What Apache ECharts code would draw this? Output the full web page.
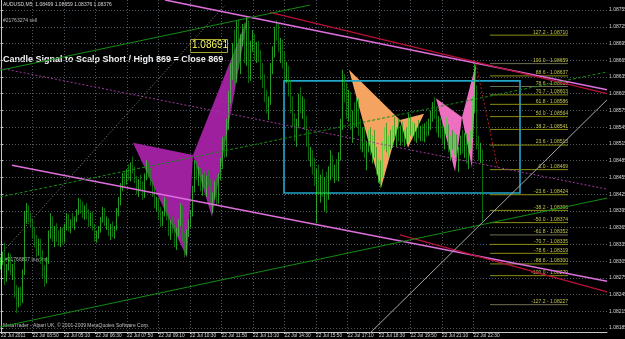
<!DOCTYPE html>
<html><head><meta charset="utf-8">
<script src="https://cdn.jsdelivr.net/npm/echarts@6/dist/echarts.min.js"></script>
<style>html,body{margin:0;padding:0;background:#000;overflow:hidden}#c{width:625px;height:339px}</style>
</head><body><div id="c"></div>
<script>
// ---- data ----
const opens = [
1.08300,1.08305,1.08318,1.08275,1.08295,1.08312,1.08286,1.08293,1.08248,1.08230,
1.08250,1.08235,1.08284,1.08385,1.08398,1.08380,1.08372,1.08350,1.08338,1.08320,
1.08340,1.08305,1.08282,1.08270,1.08305,1.08355,1.08380,1.08345,1.08362,1.08348,
1.08338,1.08358,1.08342,1.08366,1.08385,1.08362,1.08376,1.08372,1.08380,1.08393,
1.08410,1.08398,1.08386,1.08400,1.08385,1.08372,1.08388,1.08365,1.08346,1.08355,
1.08362,1.08380,1.08395,1.08372,1.08378,1.08356,1.08366,1.08352,1.08364,1.08395,
1.08412,1.08438,1.08455,1.08448,1.08465,1.08455,1.08476,1.08470,1.08450,1.08432,
1.08446,1.08436,1.08422,1.08458,1.08478,1.08462,1.08445,1.08426,1.08405,1.08415,
1.08386,1.08372,1.08390,1.08412,1.08382,1.08356,1.08372,1.08360,1.08336,1.08358,
1.08375,1.08402,1.08345,1.08320,1.08355,1.08372,1.08390,1.08435,1.08478,1.08455,
1.08468,1.08436,1.08455,1.08440,1.08452,1.08445,1.08410,1.08420,1.08442,1.08412,
1.08456,1.08482,1.08515,1.08498,1.08552,1.08600,1.08645,1.08680,1.08632,1.08725,
1.08660,1.08705,1.08718,1.08668,1.08730,1.08635,1.08690,1.08705,1.08672,1.08690,
1.08668,1.08640,1.08622,1.08598,1.08580,1.08592,1.08650,1.08680,1.08715,1.08708,
1.08688,1.08698,1.08658,1.08640,1.08650,1.08608,1.08578,1.08552,1.08528,1.08550,
1.08598,1.08578,1.08590,1.08548,1.08520,1.08495,1.08502,1.08468,1.08448,1.08455,
1.08432,1.08450,1.08428,1.08445,1.08420,1.08468,1.08490,1.08462,1.08470,1.08455,
1.08492,1.08550,1.08628,1.08600,1.08570,1.08602,1.08548,1.08565,1.08552,1.08590,
1.08538,1.08515,1.08538,1.08498,1.08510,1.08530,1.08502,1.08522,1.08495,1.08468,
1.08480,1.08458,1.08512,1.08535,1.08508,1.08525,1.08512,1.08540,1.08530,1.08538,
1.08525,1.08542,1.08522,1.08535,1.08520,1.08558,1.08535,1.08548,1.08526,1.08540,
1.08530,1.08545,1.08525,1.08546,1.08535,1.08552,1.08568,1.08585,1.08565,1.08542,
1.08558,1.08532,1.08520,1.08538,1.08545,1.08508,1.08522,1.08512,1.08528,1.08495,
1.08502,1.08520,1.08505,1.08528,1.08488,1.08512,1.08530,1.08590,1.08610,1.08515,
1.08495,1.08499];
const closes = [
1.08305,1.08318,1.08275,1.08295,1.08312,1.08286,1.08293,1.08248,1.08230,1.08250,
1.08235,1.08284,1.08385,1.08398,1.08380,1.08372,1.08350,1.08338,1.08320,1.08340,
1.08305,1.08282,1.08270,1.08305,1.08355,1.08380,1.08345,1.08362,1.08348,1.08338,
1.08358,1.08342,1.08366,1.08385,1.08362,1.08376,1.08372,1.08380,1.08393,1.08410,
1.08398,1.08386,1.08400,1.08385,1.08372,1.08388,1.08365,1.08346,1.08355,1.08362,
1.08380,1.08395,1.08372,1.08378,1.08356,1.08366,1.08352,1.08364,1.08395,1.08412,
1.08438,1.08455,1.08448,1.08465,1.08455,1.08476,1.08470,1.08450,1.08432,1.08446,
1.08436,1.08422,1.08458,1.08478,1.08462,1.08445,1.08426,1.08405,1.08415,1.08386,
1.08372,1.08390,1.08412,1.08382,1.08356,1.08372,1.08360,1.08336,1.08358,1.08375,
1.08402,1.08345,1.08320,1.08355,1.08372,1.08390,1.08435,1.08478,1.08455,1.08468,
1.08436,1.08455,1.08440,1.08452,1.08445,1.08410,1.08420,1.08442,1.08412,1.08456,
1.08482,1.08515,1.08498,1.08552,1.08600,1.08645,1.08680,1.08632,1.08725,1.08660,
1.08705,1.08718,1.08668,1.08730,1.08635,1.08690,1.08705,1.08672,1.08690,1.08668,
1.08640,1.08622,1.08598,1.08580,1.08592,1.08650,1.08680,1.08715,1.08708,1.08688,
1.08698,1.08658,1.08640,1.08650,1.08608,1.08578,1.08552,1.08528,1.08550,1.08598,
1.08578,1.08590,1.08548,1.08520,1.08495,1.08502,1.08468,1.08448,1.08455,1.08432,
1.08450,1.08428,1.08445,1.08420,1.08468,1.08490,1.08462,1.08470,1.08455,1.08492,
1.08550,1.08628,1.08600,1.08570,1.08602,1.08548,1.08565,1.08552,1.08590,1.08538,
1.08515,1.08538,1.08498,1.08510,1.08530,1.08502,1.08522,1.08495,1.08468,1.08480,
1.08458,1.08512,1.08535,1.08508,1.08525,1.08512,1.08540,1.08530,1.08538,1.08525,
1.08542,1.08522,1.08535,1.08520,1.08558,1.08535,1.08548,1.08526,1.08540,1.08530,
1.08545,1.08525,1.08546,1.08535,1.08552,1.08568,1.08585,1.08565,1.08542,1.08558,
1.08532,1.08520,1.08538,1.08545,1.08508,1.08522,1.08512,1.08528,1.08495,1.08502,
1.08520,1.08505,1.08528,1.08488,1.08512,1.08530,1.08590,1.08610,1.08515,1.08495,
1.08499,1.08376];
const highs = [
1.08312,1.08322,1.08338,1.08300,1.08320,1.08318,1.08300,1.08307,1.08262,1.08258,
1.08259,1.08290,1.08395,1.08409,1.08405,1.08392,1.08380,1.08366,1.08352,1.08345,
1.08345,1.08325,1.08298,1.08312,1.08360,1.08391,1.08385,1.08368,1.08373,1.08360,
1.08366,1.08365,1.08372,1.08391,1.08389,1.08380,1.08391,1.08385,1.08398,1.08418,
1.08416,1.08412,1.08405,1.08409,1.08398,1.08392,1.08394,1.08372,1.08360,1.08368,
1.08384,1.08402,1.08400,1.08385,1.08382,1.08372,1.08376,1.08368,1.08400,1.08420,
1.08445,1.08463,1.08466,1.08470,1.08478,1.08482,1.08492,1.08474,1.08458,1.08452,
1.08460,1.08448,1.08462,1.08486,1.08482,1.08472,1.08450,1.08438,1.08420,1.08418,
1.08402,1.08395,1.08420,1.08416,1.08390,1.08378,1.08385,1.08372,1.08365,1.08380,
1.08409,1.08405,1.08355,1.08362,1.08380,1.08397,1.08440,1.08486,1.08484,1.08474,
1.08472,1.08460,1.08466,1.08458,1.08468,1.08452,1.08428,1.08448,1.08455,1.08462,
1.08490,1.08527,1.08530,1.08560,1.08610,1.08660,1.08696,1.08720,1.08737,1.08738,
1.08712,1.08730,1.08732,1.08743,1.08736,1.08700,1.08719,1.08712,1.08698,1.08700,
1.08683,1.08660,1.08640,1.08612,1.08600,1.08660,1.08690,1.08725,1.08737,1.08730,
1.08705,1.08702,1.08680,1.08662,1.08655,1.08630,1.08600,1.08570,1.08560,1.08605,
1.08617,1.08600,1.08596,1.08565,1.08540,1.08510,1.08504,1.08490,1.08470,1.08478,
1.08460,1.08470,1.08455,1.08465,1.08475,1.08504,1.08495,1.08478,1.08488,1.08500,
1.08560,1.08648,1.08640,1.08625,1.08612,1.08608,1.08575,1.08590,1.08598,1.08596,
1.08560,1.08545,1.08545,1.08520,1.08540,1.08545,1.08530,1.08540,1.08510,1.08488,
1.08485,1.08520,1.08545,1.08553,1.08530,1.08540,1.08548,1.08563,1.08545,1.08560,
1.08548,1.08555,1.08540,1.08545,1.08570,1.08566,1.08555,1.08552,1.08545,1.08558,
1.08548,1.08550,1.08552,1.08556,1.08560,1.08575,1.08590,1.08599,1.08580,1.08565,
1.08562,1.08550,1.08545,1.08563,1.08550,1.08530,1.08540,1.08535,1.08532,1.08510,
1.08530,1.08540,1.08535,1.08534,1.08520,1.08540,1.08600,1.08659,1.08620,1.08530,
1.08517,1.08505];
const lows = [
1.08290,1.08298,1.08262,1.08268,1.08288,1.08280,1.08271,1.08240,1.08212,1.08222,
1.08225,1.08230,1.08280,1.08372,1.08375,1.08366,1.08345,1.08330,1.08312,1.08315,
1.08300,1.08275,1.08259,1.08265,1.08300,1.08345,1.08340,1.08330,1.08340,1.08332,
1.08330,1.08335,1.08338,1.08360,1.08358,1.08355,1.08366,1.08361,1.08375,1.08388,
1.08390,1.08382,1.08379,1.08380,1.08366,1.08368,1.08360,1.08340,1.08338,1.08345,
1.08356,1.08374,1.08368,1.08361,1.08350,1.08343,1.08348,1.08345,1.08360,1.08385,
1.08405,1.08430,1.08440,1.08442,1.08450,1.08448,1.08462,1.08445,1.08425,1.08420,
1.08430,1.08415,1.08418,1.08450,1.08455,1.08440,1.08420,1.08400,1.08395,1.08380,
1.08366,1.08368,1.08385,1.08378,1.08350,1.08343,1.08355,1.08330,1.08325,1.08350,
1.08368,1.08340,1.08312,1.08315,1.08348,1.08365,1.08385,1.08428,1.08450,1.08440,
1.08430,1.08422,1.08435,1.08420,1.08440,1.08405,1.08391,1.08415,1.08405,1.08408,
1.08450,1.08470,1.08490,1.08492,1.08540,1.08588,1.08630,1.08620,1.08625,1.08650,
1.08640,1.08690,1.08660,1.08655,1.08624,1.08628,1.08680,1.08665,1.08660,1.08662,
1.08630,1.08615,1.08590,1.08570,1.08558,1.08585,1.08640,1.08670,1.08700,1.08680,
1.08660,1.08650,1.08630,1.08624,1.08600,1.08570,1.08545,1.08520,1.08510,1.08545,
1.08570,1.08560,1.08540,1.08510,1.08485,1.08474,1.08460,1.08440,1.08373,1.08425,
1.08410,1.08420,1.08395,1.08391,1.08415,1.08450,1.08455,1.08445,1.08450,1.08448,
1.08485,1.08540,1.08590,1.08560,1.08555,1.08540,1.08517,1.08545,1.08545,1.08530,
1.08505,1.08500,1.08490,1.08468,1.08500,1.08495,1.08480,1.08490,1.08460,1.08445,
1.08436,1.08455,1.08505,1.08500,1.08492,1.08505,1.08508,1.08525,1.08510,1.08520,
1.08512,1.08518,1.08510,1.08515,1.08518,1.08530,1.08527,1.08520,1.08517,1.08525,
1.08520,1.08520,1.08518,1.08528,1.08530,1.08540,1.08555,1.08560,1.08535,1.08527,
1.08525,1.08515,1.08505,1.08530,1.08500,1.08486,1.08505,1.08495,1.08490,1.08465,
1.08495,1.08498,1.08490,1.08480,1.08470,1.08505,1.08525,1.08570,1.08505,1.08485,
1.08481,1.08376];

const timeLabels = ['22 Jul 2011','22 Jul 03:50','22 Jul 05:10','22 Jul 06:30','22 Jul 07:50','22 Jul 09:10',
  '22 Jul 10:30','22 Jul 11:50','22 Jul 13:10','22 Jul 14:30','22 Jul 15:50','22 Jul 17:10',
  '22 Jul 18:30','22 Jul 19:50','22 Jul 21:10','22 Jul 22:30'];
const timeTickBars = [0,15.75,31.5,47.25,63,78.75,94.5,110.25,126,141.75,157.5,173.25,189,204.75,220.5,236.25];
const priceTicks = [1.08185,1.08215,1.08245,1.08275,1.08305,1.08335,1.08365,1.08395,1.08425,1.08455,
  1.08485,1.08515,1.08545,1.08575,1.08605,1.08635,1.08665,1.08695,1.08725,1.08755];

const fibLevels = ['127.2','100.0','88.6','78.6','70.7','61.8','50.0','38.2','23.6','0.0',
  '-23.6','-38.2','-50.0','-61.8','-70.7','-78.6','-88.6','-100.0','-127.2'];
const fibPrices = [1.08710,1.08659,1.08637,1.08618,1.08603,1.08586,1.08564,1.08541,1.08513,1.08469,
  1.08424,1.08396,1.08374,1.08352,1.08335,1.08319,1.08300,1.08279,1.08227];
const fibSpan = [244.5, 283.5];

const bidPrice = 1.08376, sellOrder = 1.08729, buyOrder = 1.08300;

const pinkUpper = [[82,1.08773],[303,1.08612]];
const pinkLower = [[5.5,1.08477],[303,1.08269]];
const redUpper = [[134.5,1.08751],[303,1.08605]];
const redLower = [[199.5,1.08352],[303,1.08250]];
const purpleDotted = [[-0.5,1.08651],[303,1.08434]];
const fibTrend = [[237.5,1.08659],[248.5,1.08469]];
const greenTop = [[-0.5,1.08647],[154.5,1.08764]];
const greenDashed = [[-0.5,1.08420],[303,1.08644]];
const greenBottom = [[-0.5,1.08187],[303,1.08418]];
const grayDotted = [[-0.5,1.08316],[112,1.08764]];
const graySolid = [[184.5,1.08176],[303,1.08594]];

const purpleA = [[66,1.08517],[96,1.08495],[93,1.08311]];
const purpleB = [[96,1.08495],[123.5,1.08743],[105.5,1.08384]];
const orangeA = [[174,1.08648],[190,1.08436],[199.5,1.08558]];
const orangeB = [[199.5,1.08558],[203.5,1.08508],[211.5,1.08569]];
const pinkA = [[217.5,1.08597],[227,1.08465],[230.5,1.08563]];
const pinkB = [[230.5,1.08563],[237.5,1.08659],[235.5,1.08472]];
const boxCorners = [[141.5,1.08628],[259.5,1.08427]];

// ---- chart ----
const chart = echarts.init(document.getElementById('c'), null, {renderer:'canvas'});
const FONT = '"Liberation Sans", Arial, sans-serif';
const candleData = closes.map((c,i)=>[i, opens[i], c, lows[i], highs[i]]);

function seg(data, color, width, type, z){
  return {type:'line', data, symbol:'none', silent:true, animation:false, z: z||4, clip:true,
    lineStyle:{color, width, type}};
}
const patterns = [
  {pts:purpleA, fill:'#9e209e'},{pts:purpleB, fill:'#9e209e'},
  {pts:orangeA, fill:'#f4a460'},{pts:orangeB, fill:'#f4a460'},
  {pts:pinkA, fill:'#ee6fbf'},{pts:pinkB, fill:'#ee6fbf'}
];
const fibGray = {'100.0':1,'78.6':1,'-61.8':1,'-127.2':1};
const gridLine = {show:true, lineStyle:{color:'#4c565e', type:[1,2], width:1}};

chart.setOption({
  backgroundColor:'#000',
  animation:false,
  grid:{left:0, top:0, width:607, height:332, outerBoundsMode:'none', containLabel:false},
  xAxis:{type:'value', min:-0.5, max:303,
    axisLine:{show:true, lineStyle:{color:'#c8c8c8', width:1}},
    axisTick:{show:true, customValues: timeTickBars, length:2, lineStyle:{color:'#c8c8c8'}},
    axisLabel:{customValues: timeTickBars, color:'#d6d6d6', fontSize:4.8, fontFamily:FONT, align:'left', margin:1,
      formatter:(v)=>{const k = timeTickBars.findIndex(t=>Math.abs(t-v)<0.01); return k>=0 ? timeLabels[k] : '';}},
    splitLine: gridLine},
  yAxis:{type:'value', position:'right', min:1.08178, max:1.08773,
    axisLine:{show:true, lineStyle:{color:'#c8c8c8', width:1}},
    axisTick:{show:true, customValues: priceTicks, length:2, lineStyle:{color:'#c8c8c8'}},
    axisLabel:{customValues: priceTicks, color:'#d6d6d6', fontSize:5, fontFamily:FONT, margin:2,
      formatter:(v)=>v.toFixed(5)},
    splitLine: gridLine},
  graphic:[
    {type:'text', left:3, top:2, silent:true, style:{text:'AUDUSD,M5  1.08499 1.08659 1.08376 1.08376', fill:'#d8d8d8', font:'5px '+FONT}},
    {type:'text', left:3, top:18, silent:true, style:{text:'#21763274 sell', fill:'#b8b8b8', font:'5px '+FONT}},
    {type:'text', left:3, top:55, silent:true, style:{text:'Candle Signal to Scalp Short / High 869 = Close 869', fill:'#f2f2f2', font:'bold 9px '+FONT}},
    {type:'rect', left:190, top:39, silent:true, shape:{width:37, height:13}, style:{fill:'#000', stroke:'#a8a830', lineWidth:1}},
    {type:'text', left:192, top:40.5, silent:true, style:{text:'1.08691', fill:'#ffff66', font:'10px '+FONT}},
    {type:'text', left:5, top:257, silent:true, style:{text:'#21766807 buy lmt', fill:'#b8b8b8', font:'5px '+FONT}},
    {type:'text', left:3, top:323, silent:true, style:{text:'MetaTrader - Alpari UK, \u00a9 2001-2009 MetaQuotes Software Corp.', fill:'#c0c0c0', font:'5px '+FONT}}
  ],
  series:[
    {type:'custom', silent:true, z:1, animation:false,
      data: patterns.map(p=>p.pts[0]),
      renderItem:(params, api)=>{
        const p = patterns[params.dataIndex];
        return {type:'polygon', shape:{points:p.pts.map(v=>api.coord(v))}, style:{fill:p.fill}};
      }},
    {type:'custom', silent:true, z:2, animation:false,
      data:[boxCorners[0]],
      renderItem:(params, api)=>{
        const a = api.coord(boxCorners[0]), b = api.coord(boxCorners[1]);
        return {type:'rect', shape:{x:a[0], y:a[1], width:b[0]-a[0], height:b[1]-a[1]}, style:{fill:null, stroke:'#22a6cc', lineWidth:1.6}};
      }},
    {type:'custom', silent:true, z:2, animation:false,
      data: fibPrices.map(p=>[fibSpan[0], p]),
      renderItem:(params, api)=>{
        const i = params.dataIndex;
        const a = api.coord([fibSpan[0], fibPrices[i]]), b = api.coord([fibSpan[1], fibPrices[i]]);
        const gray = fibGray[fibLevels[i]];
        return {type:'group', children:[
          {type:'line', shape:{x1:a[0], y1:a[1], x2:b[0], y2:b[1]}, style:{stroke: gray ? '#6e6e52' : '#8c8c14', lineWidth:1}},
          {type:'text', x:b[0], y:a[1]-0.5, style:{text: fibLevels[i]+' - '+fibPrices[i].toFixed(5), fill:'#c4c450', fontSize:5, fontFamily:FONT, align:'right', verticalAlign:'bottom'}}
        ]};
      }},
    {type:'candlestick', data:candleData, z:3, silent:true, animation:false, barWidth:1,
      itemStyle:{color:'#2fe02f', color0:'#0f9a0f', borderColor:'#2fe02f', borderColor0:'#0f9a0f', borderWidth:0.7},
      markLine:{silent:true, symbol:'none', animation:false,
        data:[
          {yAxis:bidPrice, lineStyle:{color:'#7c7c7c', type:'solid', width:1},
            label:{show:true, position:'end', formatter: bidPrice.toFixed(5), color:'#000', backgroundColor:'#f4f4f4', fontSize:5, fontFamily:FONT, padding:[1,1,0,1], distance:1}},
          {yAxis:sellOrder, lineStyle:{color:'#1a9a1a', type:[4,2], width:1}, label:{show:false}},
          {yAxis:buyOrder, lineStyle:{color:'#1a9a1a', type:[4,2], width:1}, label:{show:false}}
        ]}},
    seg(pinkUpper, '#dc6fdc', 1.6, 'solid'),
    seg(pinkLower, '#dc6fdc', 1.6, 'solid'),
    seg(redUpper, '#b8103a', 1.3, 'solid'),
    seg(redLower, '#b8103a', 1.3, 'solid'),
    seg(purpleDotted, '#a038a0', 1, [2,2]),
    seg(fibTrend, '#c01818', 1, [2,2]),
    seg(greenTop, '#138c13', 1, 'solid'),
    seg(greenDashed, '#138c13', 1, [3,2]),
    seg(greenBottom, '#138c13', 1, 'solid'),
    seg(grayDotted, '#8a8a8a', 1, [1,2]),
    seg(graySolid, '#a8a8a8', 1, 'solid')
  ]
});
</script></body></html>
